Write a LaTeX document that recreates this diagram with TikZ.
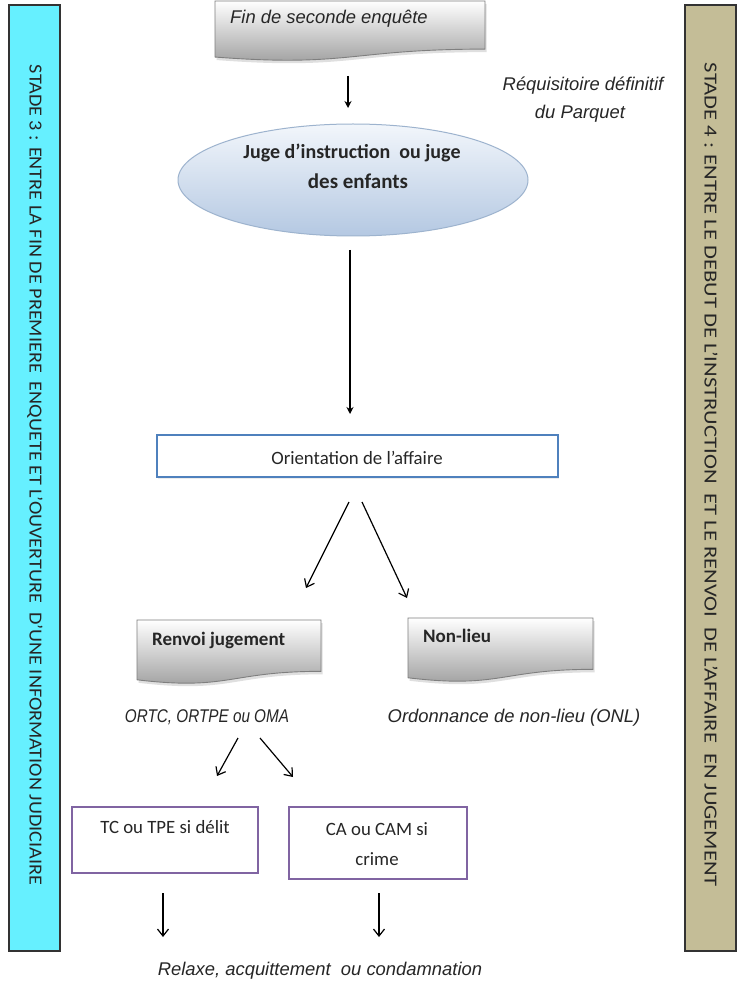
\documentclass[tikz,border=0pt]{standalone}
\usepackage{fontspec}
\setmainfont{Carlito}
\newfontfamily\itfont{Liberation Sans}
\usetikzlibrary{arrows.meta,shadows,shapes.geometric}
\definecolor{cyanbar}{HTML}{66F0FF}
\definecolor{tanbar}{HTML}{C4BD97}
\definecolor{accblue}{HTML}{4F81BD}
\definecolor{accpurple}{HTML}{8064A2}
\definecolor{docgray}{HTML}{9A9A9A}
\definecolor{docline}{HTML}{7F7F7F}
\definecolor{ellline}{HTML}{9DB3CE}
\definecolor{elltop}{HTML}{F2F6FB}
\definecolor{ellbot}{HTML}{B4C8E2}
\definecolor{txt}{HTML}{262626}
\newcommand{\docshape}[5]{%
  \path[docstyle] (#2,#3) -- (#4,#3) -- (#4,{#3+0.802*(#5)})
    .. controls ({(#2+#4)/2},{#3+0.802*(#5)}) and ({(#2+#4)/2},{#3+1.107*(#5)}) ..
    (#2,{#3+0.934*(#5)}) -- cycle;
  \node[inner sep=0pt,minimum width={(#4-#2)*1pt},minimum height={#5*1pt}] (#1)
    at ({(#2+#4)/2},{#3+#5/2}) {};}
\begin{document}
\begin{tikzpicture}[x=1pt,y=-1pt,
  bar/.style={draw=black!80,line width=1.3pt},
  docstyle/.style={draw=docline,line width=0.9pt,top color=white,bottom color=docgray,
    drop shadow={shadow xshift=1.5pt,shadow yshift=-3pt,opacity=0.25}},
  itxt/.style={inner sep=0pt,text=txt,font=\itfont\itshape\fontsize{18.4}{21}\selectfont},
  btxt/.style={inner sep=0pt,text=txt,font=\bfseries\fontsize{19}{22}\selectfont},
  jtxt/.style={inner sep=0pt,text=txt,font=\bfseries\fontsize{21}{24}\selectfont},
  rtxt/.style={inner sep=0pt,text=txt,font=\fontsize{18.8}{22}\selectfont},
  barb/.style={draw=black,line width=1.2pt,-{Straight Barb[length=7pt,width=11pt]}},
  stl/.style={draw=black,line width=1.2pt,-{Stealth[length=7pt,width=7pt]}},
  outbox/.style={draw,line width=2.2pt,fill=white,inner sep=0pt}
]
\useasboundingbox (0,0) rectangle (740,981);
\fill[white] (0,0) rectangle (740,981);

% side bars
\node[bar,fill=cyanbar,minimum width=51pt,minimum height=946pt,inner sep=0pt] (stade3) at (34.5,478) {};
\node[rotate=-90,inner sep=0pt,text=black!85] (stade3t) at (35,475)
  {\resizebox{820pt}{13pt}{STADE 3 : ENTRE LA FIN DE PREMIERE\ \ ENQUETE ET L'OUVERTURE\ \ D'UNE INFORMATION JUDICIAIRE}};
\node[bar,fill=tanbar,minimum width=51pt,minimum height=946pt,inner sep=0pt] (stade4) at (710.5,478) {};
\node[rotate=-90,inner sep=0pt,text=black!85] (stade4t) at (711,475)
  {\resizebox{824pt}{13pt}{STADE 4 : ENTRE LE DEBUT DE L'INSTRUCTION\ \ ET LE RENVOI\ \ DE L'AFFAIRE\ \ EN JUGEMENT}};

% top document
\docshape{fin}{215}{1}{485}{60}
\node[itxt,anchor=mid west] (fint) at (230,21) {Fin de seconde enquête};

\node[itxt,anchor=mid] (req1) at (583,88) {Réquisitoire définitif};
\node[itxt,anchor=mid] (req2) at (580,116) {du Parquet};

% ellipse
\node[ellipse,draw=ellline,line width=1pt,top color=elltop,bottom color=ellbot,
  minimum width=350pt,minimum height=112pt,inner sep=0pt] (juge) at (353,180) {};
\node[jtxt,anchor=mid] (juge1) at (352,156) {\resizebox{217pt}{!}{Juge d'instruction\ \ ou juge}};
\node[jtxt,anchor=mid] (juge2) at (358,186) {des enfants};

% orientation
\node[outbox,draw=accblue,minimum width=401pt,minimum height=42pt,
  drop shadow={shadow xshift=1pt,shadow yshift=-2pt,opacity=0.15}] (orient) at (357.5,456) {};
\node[rtxt,anchor=mid] (orientt) at (357,462) {Orientation de l'affaire};

% renvoi / non-lieu
\docshape{renvoi}{137}{620}{321}{64}
\node[btxt,anchor=mid west] (renvoit) at (152,643) {Renvoi jugement};
\docshape{nonlieu}{408}{618}{593}{64}
\node[btxt,anchor=mid west] (nonlieut) at (423,640) {Non-lieu};

\node[itxt,anchor=mid] (ortc) at (207,720) {\scalebox{0.83}[1]{ORTC, ORTPE ou OMA}};
\node[itxt,anchor=mid] (onl) at (514,720) {Ordonnance de non-lieu (ONL)};

% bottom boxes
\node[outbox,draw=accpurple,minimum width=186pt,minimum height=66pt] (tc) at (165,840) {};
\node[rtxt,anchor=mid] (tct) at (165,831) {TC ou TPE si délit};
\node[outbox,draw=accpurple,minimum width=178pt,minimum height=72pt] (ca) at (378,843) {};
\node[rtxt,anchor=mid] (cat1) at (377,833) {CA ou CAM si};
\node[rtxt,anchor=mid] (cat2) at (377,863) {crime};

\node[itxt,anchor=mid] (relaxe) at (320,973) {Relaxe, acquittement\ \ ou condamnation};

% connectors
\coordinate (a1s) at (348,76);   \coordinate (a1e) at (348,108);
\coordinate (a2s) at (350,250);  \coordinate (a2e) at (350,414);
\coordinate (a3s) at (349,502);  \coordinate (a3e) at (306,588);
\coordinate (a4s) at (362,502);  \coordinate (a4e) at (407,598);
\coordinate (a5s) at (238,738);  \coordinate (a5e) at (217,776);
\coordinate (a6s) at (260,738);  \coordinate (a6e) at (293,777);
\coordinate (a7s) at (163,893);  \coordinate (a7e) at (163,937);
\coordinate (a8s) at (379,893);  \coordinate (a8e) at (379,937);
\draw[stl] (a1s) -- (a1e);
\draw[stl] (a2s) -- (a2e);
\draw[barb] (a3s) -- (a3e);
\draw[barb] (a4s) -- (a4e);
\draw[barb] (a5s) -- (a5e);
\draw[barb] (a6s) -- (a6e);
\draw[barb] (a7s) -- (a7e);
\draw[barb] (a8s) -- (a8e);
\end{tikzpicture}
\end{document}
